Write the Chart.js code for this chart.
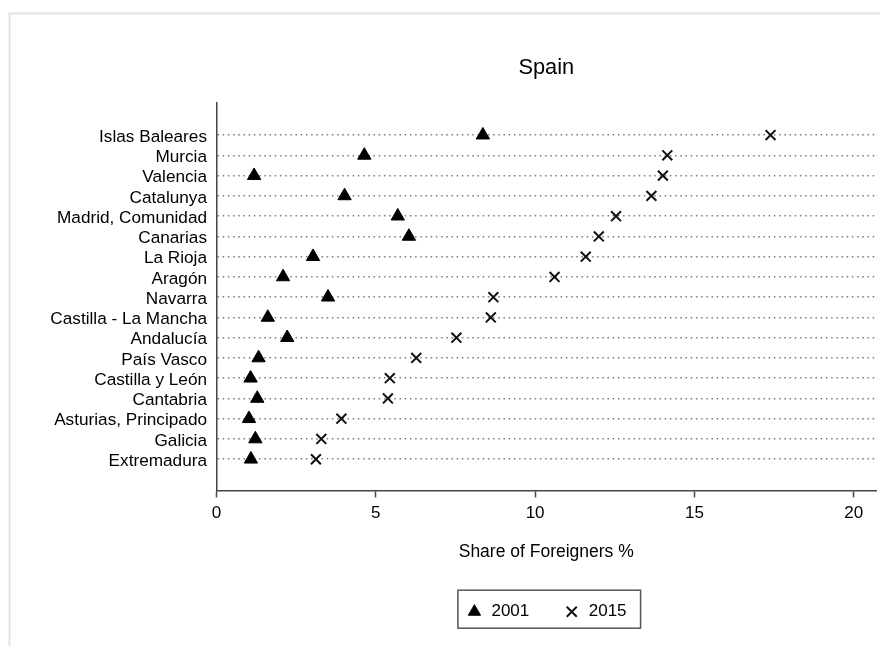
<!DOCTYPE html>
<html><head><meta charset="utf-8">
<script src="https://cdn.jsdelivr.net/npm/chart.js@4.4.1/dist/chart.umd.min.js"></script>
<style>html,body{margin:0;padding:0;background:#fff;}#wrap{width:880px;height:646px;position:relative;}</style>
</head><body><div id="wrap"><canvas id="c" width="880" height="646"></canvas></div>
<script>
const regions = ["Islas Baleares","Murcia","Valencia","Catalunya","Madrid, Comunidad","Canarias","La Rioja","Aragón","Navarra","Castilla - La Mancha","Andalucía","País Vasco","Castilla y León","Cantabria","Asturias, Principado","Galicia","Extremadura"];
const share2001 = [8.36,4.64,1.18,4.02,5.69,6.04,3.03,2.09,3.50,1.61,2.22,1.32,1.07,1.28,1.02,1.22,1.08];
const share2015 = [17.39,14.15,14.01,13.65,12.54,12.00,11.59,10.61,8.69,8.61,7.53,6.27,5.44,5.38,3.92,3.29,3.12];
const xTicks = [0,5,10,15,20];
const seriesNames = ["2001","2015"];
const chartTitle = "Spain";
const xTitle = "Share of Foreigners %";

const FONT = "'Liberation Sans', Arial, Helvetica, sans-serif";

const toPoints = vals => vals.map((v,i)=>({x:v,y:i}));

const frame = {
  id:'frame',
  beforeDraw(chart){
    const ctx = chart.ctx; ctx.save();
    ctx.strokeStyle = '#e4e4e4'; ctx.lineWidth = 2;
    ctx.strokeRect(9.5, 13.5, 900, 700);
    ctx.restore();
  }
};
const legendFrame = {
  id:'legendFrame',
  afterDraw(chart){
    const hb = chart.legend && chart.legend.legendHitBoxes;
    if(!hb || !hb.length) return;
    const first = hb[0], last = hb[hb.length-1];
    const ctx = chart.ctx; ctx.save();
    ctx.strokeStyle = '#555'; ctx.lineWidth = 1.5;
    const l = first.left - 8, r = last.left + last.width + 14;
    const t = first.top - 13, b = first.top + first.height + 8;
    ctx.strokeRect(l, t, r-l, b-t);
    ctx.restore();
  }
};

new Chart(document.getElementById('c'), {
  type: 'scatter',
  data: {
    datasets: [
      { label: seriesNames[0], data: toPoints(share2001), pointStyle: 'triangle', pointRadius: 7.7,
        backgroundColor: '#000', borderColor: '#000', borderWidth: 1, pointHoverRadius: 7.7 },
      { label: seriesNames[1], data: toPoints(share2015), pointStyle: 'crossRot', pointRadius: 7,
        backgroundColor: '#111', borderColor: '#111', borderWidth: 2, pointHoverRadius: 7 }
    ]
  },
  options: {
    responsive: false,
    animation: false,
    devicePixelRatio: 1,
    layout: { autoPadding: false, padding: { left: 0, right: 4, top: 0, bottom: 15.8 } },
    plugins: {
      tooltip: { enabled: false },
      title: {
        display: true, text: chartTitle, fullSize: false, color: '#000',
        font: { family: FONT, size: 21.8, weight: 'normal', lineHeight: 1.2 },
        padding: { top: 54.9, bottom: 21.9 }
      },
      legend: {
        display: true, position: 'bottom', fullSize: false,
        labels: {
          usePointStyle: true, boxWidth: 17, boxHeight: 10, padding: 34, color: '#000',
          font: { family: FONT, size: 17, lineHeight: 1.2 }
        }
      }
    },
    scales: {
      x: {
        type: 'linear', min: 0, max: 20.7,
        afterBuildTicks: s => { s.ticks = xTicks.map(v => ({value: v})); },
        afterFit: s => { s.paddingRight = 0; s.paddingLeft = 0; },
        grid: { drawOnChartArea: false, drawTicks: true, tickLength: 7, tickColor: '#444', tickWidth: 1.5 },
        border: { display: true, color: '#444', width: 1.5 },
        ticks: { color: '#000', padding: 6, maxRotation: 0, font: { family: FONT, size: 17, lineHeight: 1.2 } },
        title: { display: true, text: xTitle, color: '#000', padding: { top: 11.4, bottom: 7 },
                 font: { family: FONT, size: 17.5, lineHeight: 1.2 } }
      },
      y: {
        type: 'linear', reverse: true, min: -1.587, max: 17.539,
        afterBuildTicks: s => { s.ticks = regions.map((r,i) => ({value: i})); },
        afterFit: s => { s.width = 216.5; s.paddingTop = 0; s.paddingBottom = 0; },
        grid: { drawOnChartArea: true, drawTicks: false, color: '#7a7a7a', lineWidth: 1.5 },
        border: { display: true, color: '#444', width: 1.5, dash: [1.5, 3.7] },
        ticks: { color: '#000', padding: 9.5, labelOffset: 2,
                 font: { family: FONT, size: 17.2, lineHeight: 1.2 },
                 callback: v => regions[v] }
      }
    }
  },
  plugins: [frame, legendFrame]
});
</script></body></html>
